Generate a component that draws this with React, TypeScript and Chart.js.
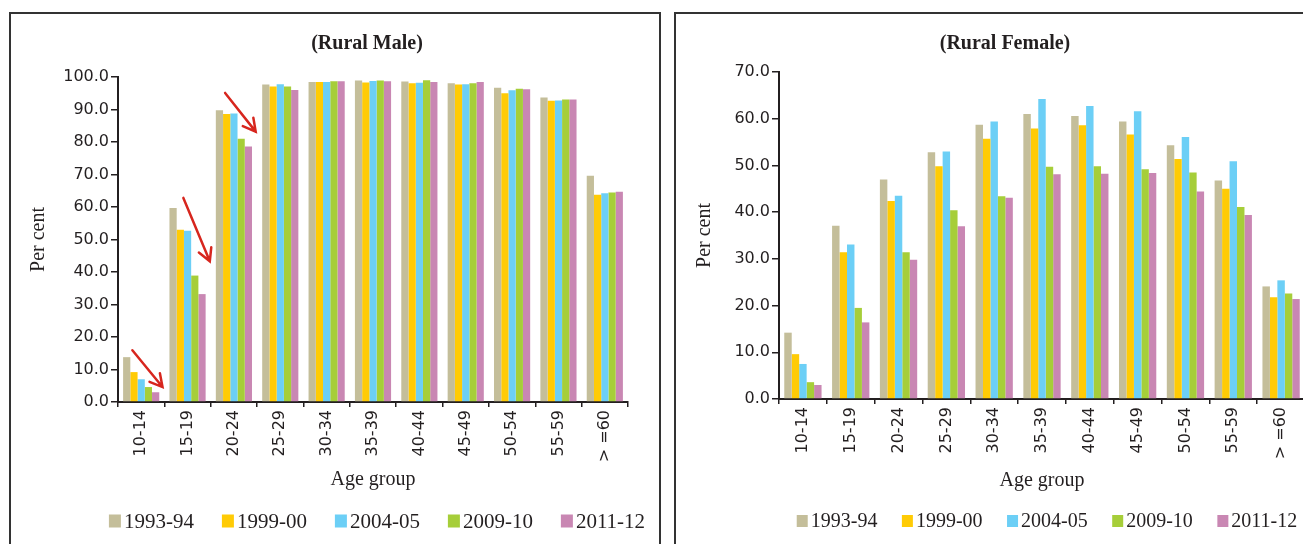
import React, { useEffect, useRef } from 'react';
import { Chart, registerables } from 'chart.js';

Chart.register(...registerables);

// ---------- data ----------
const AGE_GROUPS = ['10-14', '15-19', '20-24', '25-29', '30-34', '35-39', '40-44', '45-49', '50-54', '55-59', '> =60'];
const SERIES_LABELS = ['1993-94', '1999-00', '2004-05', '2009-10', '2011-12'];
const SERIES_COLORS = ['#C4BE9A', '#FFCB05', '#6CCFF6', '#A6CE39', '#C987B3'];

const MALE_1993 = [13.8, 59.7, 89.8, 97.7, 98.5, 98.9, 98.6, 98.1, 96.7, 93.7, 69.6];
const MALE_1999 = [9.2, 53.0, 88.6, 97.1, 98.5, 98.3, 98.1, 97.7, 95.0, 92.7, 63.8];
const MALE_2004 = [7.0, 52.7, 88.8, 97.8, 98.5, 98.8, 98.2, 97.8, 95.9, 92.8, 64.2];
const MALE_2009 = [4.6, 38.9, 81.0, 97.1, 98.7, 98.9, 99.0, 98.1, 96.4, 93.1, 64.5];
const MALE_2011 = [3.0, 33.2, 78.6, 96.0, 98.7, 98.7, 98.5, 98.5, 96.2, 93.1, 64.7];

const FEMALE_1993 = [14.2, 37.1, 47.0, 52.8, 58.7, 61.0, 60.6, 59.4, 54.3, 46.8, 24.1];
const FEMALE_1999 = [9.6, 31.4, 42.4, 49.8, 55.7, 57.9, 58.6, 56.6, 51.4, 45.0, 21.8];
const FEMALE_2004 = [7.5, 33.1, 43.5, 53.0, 59.4, 64.2, 62.7, 61.6, 56.1, 50.9, 25.4];
const FEMALE_2009 = [3.6, 19.5, 31.4, 40.4, 43.4, 49.7, 49.8, 49.2, 48.5, 41.1, 22.6];
const FEMALE_2011 = [3.0, 16.4, 29.8, 37.0, 43.1, 48.1, 48.2, 48.4, 44.4, 39.4, 21.4];

const MALE_Y_MAX = 100;
const FEMALE_Y_MAX = 70;
const Y_STEP = 10;

// red arrows on the male panel, in data units (category index, percent)
const ARROW_FROM_INDEX = [-0.19, 0.91, 1.81];
const ARROW_FROM_VALUE = [15.9, 62.8, 95.1];
const ARROW_TO_INDEX = [0.46, 1.48, 2.47];
const ARROW_TO_VALUE = [4.6, 43.3, 83.2];

const TEXT = '#231F20';
const SERIF = '"Liberation Serif", "Times New Roman", serif';
const SANS = '"DejaVu Sans", sans-serif';

type PanelCfg = {
  title: string;
  series: number[][];
  yMax: number;
  canvasW: number;
  pad: { top: number; right: number; bottom: number };
  yWidth: number;
  xHeight: number;
  yTitlePad: number;
  titleDx: number;
  legendDx: number;
  legendY: number;
  legendFont: number;
  legendBox: [number, number];
  legendGap: number;
  arrows: boolean;
};

function makeDecor(cfg: PanelCfg) {
  return {
    id: 'decor',
    afterDraw(chart: any) {
      const { ctx, chartArea } = chart;
      const cx = (chartArea.left + chartArea.right) / 2;
      ctx.save();
      // title
      ctx.fillStyle = TEXT;
      ctx.font = `bold 20px ${SERIF}`;
      ctx.textAlign = 'center';
      ctx.textBaseline = 'middle';
      ctx.fillText(cfg.title, cx + cfg.titleDx, 30);

      // legend
      ctx.font = `${cfg.legendFont}px ${SERIF}`;
      ctx.textAlign = 'left';
      const [bw, bh] = cfg.legendBox;
      const widths = chart.data.datasets.map((d: any) => ctx.measureText(d.label).width);
      const total =
        widths.reduce((s: number, w: number) => s + bw + 3 + w, 0) + cfg.legendGap * (widths.length - 1);
      let x = cx + cfg.legendDx - total / 2;
      chart.data.datasets.forEach((d: any, i: number) => {
        ctx.fillStyle = d.backgroundColor;
        ctx.fillRect(x, cfg.legendY - bh / 2, bw, bh);
        ctx.fillStyle = TEXT;
        ctx.fillText(d.label, x + bw + 3, cfg.legendY + 1);
        x += bw + 3 + widths[i] + cfg.legendGap;
      });

      // arrows
      if (cfg.arrows) {
        const xs = chart.scales.x;
        const ys = chart.scales.y;
        ctx.strokeStyle = '#D7261E';
        ctx.lineWidth = 2.5;
        ctx.lineCap = 'round';
        for (let i = 0; i < ARROW_FROM_INDEX.length; i++) {
          const x1 = xs.getPixelForValue(ARROW_FROM_INDEX[i]);
          const y1 = ys.getPixelForValue(ARROW_FROM_VALUE[i]);
          const x2 = xs.getPixelForValue(ARROW_TO_INDEX[i]);
          const y2 = ys.getPixelForValue(ARROW_TO_VALUE[i]);
          const a = Math.atan2(y2 - y1, x2 - x1);
          const h = 14;
          const s = 0.5;
          ctx.beginPath();
          ctx.moveTo(x1, y1);
          ctx.lineTo(x2, y2);
          ctx.moveTo(x2 - h * Math.cos(a - s), y2 - h * Math.sin(a - s));
          ctx.lineTo(x2, y2);
          ctx.lineTo(x2 - h * Math.cos(a + s), y2 - h * Math.sin(a + s));
          ctx.stroke();
        }
      }
      ctx.restore();
    },
  };
}

function BarPanel({ cfg }: { cfg: PanelCfg }) {
  const ref = useRef<HTMLCanvasElement>(null);
  useEffect(() => {
    const chart = new Chart(ref.current as HTMLCanvasElement, {
      type: 'bar',
      data: {
        labels: AGE_GROUPS,
        datasets: cfg.series.map((vals, i) => ({
          label: SERIES_LABELS[i],
          data: vals,
          backgroundColor: SERIES_COLORS[i],
          borderWidth: 0,
          categoryPercentage: 0.78,
          barPercentage: 1,
        })),
      },
      options: {
        responsive: false,
        animation: false,
        devicePixelRatio: 1,
        layout: { padding: { left: 0, top: cfg.pad.top, right: cfg.pad.right, bottom: cfg.pad.bottom } },
        plugins: {
          legend: { display: false },
          title: { display: false },
          tooltip: { enabled: false },
        },
        scales: {
          x: {
            afterFit: (s: any) => {
              s.height = cfg.xHeight;
            },
            grid: {
              drawOnChartArea: false,
              drawTicks: true,
              tickLength: 5,
              color: TEXT,
              lineWidth: 1.5,
            },
            border: { display: true, color: TEXT, width: 2 },
            ticks: {
              autoSkip: false,
              maxRotation: 90,
              minRotation: 90,
              padding: 3,
              color: TEXT,
              font: { family: SANS, size: 16 },
            },
            title: {
              display: true,
              text: 'Age group',
              color: TEXT,
              font: { family: SERIF, size: 20 },
              padding: { top: 0, bottom: 0 },
            },
          },
          y: {
            min: 0,
            max: cfg.yMax,
            afterFit: (s: any) => {
              s.width = cfg.yWidth;
            },
            grid: {
              drawOnChartArea: false,
              drawTicks: true,
              tickLength: 7,
              color: TEXT,
              lineWidth: 1.5,
            },
            border: { display: true, color: TEXT, width: 2 },
            ticks: {
              stepSize: Y_STEP,
              padding: 2,
              color: TEXT,
              font: { family: SANS, size: 16 },
              callback: (v: any) => Number(v).toFixed(1),
            },
            title: {
              display: true,
              text: 'Per cent',
              color: TEXT,
              font: { family: SERIF, size: 20 },
              padding: { top: cfg.yTitlePad, bottom: 0 },
            },
          },
        },
      },
      plugins: [makeDecor(cfg)],
    });
    return () => chart.destroy();
  }, []);
  return (
    <canvas
      ref={ref}
      width={cfg.canvasW}
      height={530}
      style={{ display: 'block', width: cfg.canvasW, height: 530 }}
    />
  );
}

const MALE_CFG: PanelCfg = {
  title: '(Rural Male)',
  series: [MALE_1993, MALE_1999, MALE_2004, MALE_2009, MALE_2011],
  yMax: MALE_Y_MAX,
  canvasW: 648,
  pad: { top: 63, right: 31, bottom: 52 },
  yWidth: 107,
  xHeight: 90,
  yTitlePad: 16,
  titleDx: -6,
  legendDx: 4,
  legendY: 507,
  legendFont: 21,
  legendBox: [12, 13],
  legendGap: 28,
  arrows: true,
};

const FEMALE_CFG: PanelCfg = {
  title: '(Rural Female)',
  series: [FEMALE_1993, FEMALE_1999, FEMALE_2004, FEMALE_2009, FEMALE_2011],
  yMax: FEMALE_Y_MAX,
  canvasW: 635,
  pad: { top: 58, right: 6, bottom: 51 },
  yWidth: 103,
  xHeight: 94,
  yTitlePad: 17,
  titleDx: -37,
  legendDx: 5,
  legendY: 507,
  legendFont: 20,
  legendBox: [11, 12],
  legendGap: 24.5,
  arrows: false,
};

export default function App() {
  return (
    <div style={{ position: 'relative', width: 1303, height: 536, overflow: 'hidden', background: '#fff' }}>
      <div
        style={{
          position: 'absolute',
          left: 1,
          top: 4,
          width: 648,
          height: 600,
          border: '2px solid #333',
          overflow: 'hidden',
        }}
      >
        <BarPanel cfg={MALE_CFG} />
      </div>
      <div
        style={{
          position: 'absolute',
          left: 666,
          top: 4,
          width: 700,
          height: 600,
          border: '2px solid #333',
          overflow: 'hidden',
        }}
      >
        <BarPanel cfg={FEMALE_CFG} />
      </div>
    </div>
  );
}
